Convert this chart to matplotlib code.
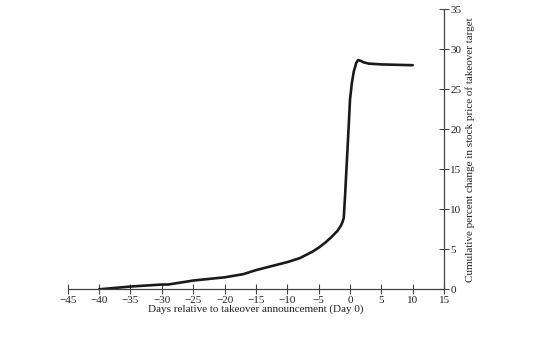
import matplotlib
matplotlib.use("Agg")
import matplotlib.pyplot as plt
from matplotlib.ticker import FuncFormatter

days = [-40, -35, -30, -29, -25, -20, -17, -15, -12, -10, -8, -6, -5, -4, -3, -2,
        -1.5, -1.2, -1, -0.8, -0.6, -0.4, -0.2, 0, 0.3, 0.6, 1, 1.3, 1.7, 2.2, 3, 5, 10]
cum_pct = [0, 0.35, 0.6, 0.6, 1.1, 1.5, 1.9, 2.4, 3.0, 3.4, 3.9, 4.7, 5.2, 5.8, 6.5, 7.3,
           7.9, 8.4, 8.9, 11.5, 14.5, 17.5, 20.5, 23.7, 25.8, 27.2, 28.3, 28.65, 28.55, 28.35,
           28.2, 28.1, 28.0]
x_ticks = list(range(-45, 16, 5))
y_ticks = list(range(0, 36, 5))

plt.rcParams['font.family'] = ['Liberation Serif', 'DejaVu Serif']

fig = plt.figure(figsize=(5.6, 3.4), dpi=100)
ax = fig.add_axes([0.121, 0.149, 0.672, 0.824])
ax.plot(days, cum_pct, color='#1a1a1a', lw=1.9, solid_capstyle='round',
        solid_joinstyle='round')

ax.set_xlim(-45, 15)
ax.set_ylim(0, 35)
for s in ['top', 'left']:
    ax.spines[s].set_visible(False)
ax.spines['bottom'].set_color('#444444')
ax.spines['right'].set_color('#444444')
ax.spines['bottom'].set_linewidth(0.9)
ax.spines['right'].set_linewidth(0.9)

ax.yaxis.tick_right()
ax.yaxis.set_label_position('right')
ax.set_xticks(x_ticks)
ax.set_yticks(y_ticks)
fmt = FuncFormatter(lambda v, p: f"{int(v)}".replace('-', '\u2212'))
ax.xaxis.set_major_formatter(fmt)
ax.tick_params(axis='both', direction='inout', length=7, width=0.8, color='#444444',
               labelsize=8, pad=1, labelcolor='#222222')
ax.set_xlabel('Days relative to takeover announcement (Day 0)', fontsize=8,
              color='#222222', labelpad=0)
ax.set_ylabel('Cumulative percent change in stock price of takeover target',
              fontsize=8, color='#222222', labelpad=3)

fig.savefig('out.png', dpi=100)
